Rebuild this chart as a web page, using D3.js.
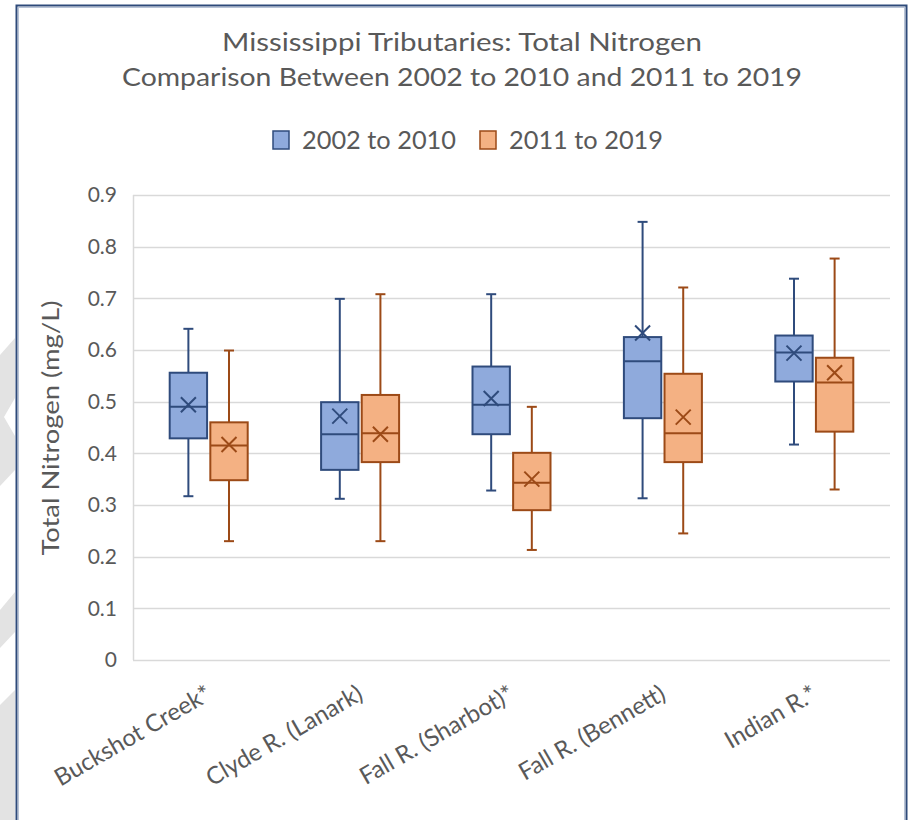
<!DOCTYPE html>
<html>
<head>
  <meta charset="utf-8">
  <title>Mississippi Tributaries: Total Nitrogen</title>
  <script src="https://d3js.org/d3.v7.min.js"></script>
  <style type="text/css">
    body { margin: 0; background: #fff; }
    text { font-family: Lato, "Open Sans", sans-serif; fill: #595959; }
    .grid line { stroke: #d9d9d9; stroke-width: 1.5; }
    .tick-label { font-size: 21px; }
  </style>
</head>
<body>
<script>
var width = 917,
    height = 820;

// ---- data ----
var categories = ["Buckshot Creek*", "Clyde R. (Lanark)", "Fall R. (Sharbot)*", "Fall R. (Bennett)", "Indian R.*"];
var series = ["2002 to 2010", "2011 to 2019"];
var yTicks = [0, 0.1, 0.2, 0.3, 0.4, 0.5, 0.6, 0.7, 0.8, 0.9];

var min1    = [0.317, 0.312, 0.328, 0.313, 0.417];
var q1_1    = [0.429, 0.368, 0.437, 0.468, 0.539];
var median1 = [0.490, 0.437, 0.494, 0.578, 0.595];
var q3_1    = [0.556, 0.499, 0.568, 0.625, 0.628];
var max1    = [0.641, 0.699, 0.708, 0.848, 0.738];
var mean1   = [0.494, 0.472, 0.506, 0.633, 0.594];

var min2    = [0.230, 0.230, 0.213, 0.245, 0.330];
var q1_2    = [0.348, 0.383, 0.290, 0.383, 0.442];
var median2 = [0.415, 0.439, 0.343, 0.439, 0.537];
var q3_2    = [0.460, 0.513, 0.401, 0.554, 0.585];
var max2    = [0.599, 0.708, 0.490, 0.721, 0.777];
var mean2   = [0.417, 0.437, 0.350, 0.470, 0.556];

var fills = ["#8faadc", "#f4b183"];
var strokes = ["#2f4b7c", "#9c4a17"];

// build rows for drawing
var stats = [
  {min: min1, q1: q1_1, med: median1, q3: q3_1, max: max1, mean: mean1},
  {min: min2, q1: q1_2, med: median2, q3: q3_2, max: max2, mean: mean2}
];
var boxes = [];
categories.forEach(function(c, i) {
  series.forEach(function(s, j) {
    var st = stats[j];
    boxes.push({cat: c, s: s, j: j, min: st.min[i], q1: st.q1[i], med: st.med[i],
                q3: st.q3[i], max: st.max[i], mean: st.mean[i]});
  });
});

var svg = d3.select("body").append("svg")
    .attr("width", width)
    .attr("height", height);

// grey watermark shapes on the left edge
var shapes = [
  [[0,355],[15,338],[15,398],[4,417],[15,436],[15,470],[0,486]],
  [[0,610],[15,592],[15,632],[0,648]],
  [[0,705],[15,690],[15,820],[0,820]]
];
svg.selectAll(".wm")
  .data(shapes)
  .enter()
  .append("polygon")
  .attr("points", function(d) { return d.join(" "); })
  .attr("fill", "#e3e3e3");

// chart frame
svg.append("rect")
  .attr("x", 16.5).attr("y", 5.5)
  .attr("width", 890).attr("height", 830)
  .attr("fill", "#fff")
  .attr("stroke", "#2e4a7a")
  .attr("stroke-width", 2);
svg.append("rect")
  .attr("x", 18.5).attr("y", 7.5)
  .attr("width", 886).attr("height", 830)
  .attr("fill", "none")
  .attr("stroke", "#b8c3d6")
  .attr("stroke-width", 1);

// ---- scales ----
var x = d3.scaleBand()
  .domain(categories)
  .range([133, 890]);

var bw = x.bandwidth();
var xs = d3.scaleBand()
  .domain(series)
  .range([bw / 2 - 39, bw / 2 + 39])
  .paddingInner(0.08);

var y = d3.scaleLinear()
  .domain([0, 0.9])
  .range([660, 195]);

// gridlines
var grid = svg.append("g").attr("class", "grid");
grid.selectAll("line")
  .data(yTicks)
  .enter()
  .append("line")
  .attr("x1", 133).attr("x2", 890)
  .attr("y1", function(d) { return Math.round(y(d)) + 0.5; })
  .attr("y2", function(d) { return Math.round(y(d)) + 0.5; });
svg.append("line")
  .attr("x1", 133.5).attr("x2", 133.5)
  .attr("y1", y(0.9)).attr("y2", y(0))
  .attr("stroke", "#d9d9d9")
  .attr("stroke-width", 1.5);

// y axis labels
svg.selectAll(".ylab")
  .data(yTicks)
  .enter()
  .append("text")
  .attr("class", "tick-label")
  .attr("x", 117)
  .attr("y", function(d) { return y(d); })
  .attr("dy", "0.35em")
  .attr("text-anchor", "end")
  .text(function(d) { return d === 0 ? "0" : d3.format(".1f")(d); });

svg.append("text")
  .attr("transform", "translate(59," + 428 + ") rotate(-90)")
  .attr("text-anchor", "middle")
  .attr("textLength", 255)
  .attr("lengthAdjust", "spacingAndGlyphs")
  .style("font-size", "23px")
  .text("Total Nitrogen (mg/L)");

// x axis labels
svg.selectAll(".xlab")
  .data(categories)
  .enter()
  .append("text")
  .attr("transform", function(d) {
    return "translate(" + (x(d) + bw / 2 - 4) + ",684) rotate(-30)";
  })
  .attr("text-anchor", "end")
  .attr("dy", "0.7em")
  .style("font-size", "24px")
  .text(function(d) { return d; });

// ---- boxes ----
var g = svg.append("g");
var box = g.selectAll(".box")
  .data(boxes)
  .enter()
  .append("g")
  .attr("class", "box")
  .attr("transform", function(d) { return "translate(" + (x(d.cat) + xs(d.s)) + ",0)"; });

var w = xs.bandwidth();
var cap = 5;

// whiskers
box.append("line")
  .attr("x1", w / 2).attr("x2", w / 2)
  .attr("y1", function(d) { return y(d.max); })
  .attr("y2", function(d) { return y(d.min); })
  .attr("stroke", function(d) { return strokes[d.j]; })
  .attr("stroke-width", 2);
box.append("line")
  .attr("x1", w / 2 - cap).attr("x2", w / 2 + cap)
  .attr("y1", function(d) { return y(d.max); })
  .attr("y2", function(d) { return y(d.max); })
  .attr("stroke", function(d) { return strokes[d.j]; })
  .attr("stroke-width", 2);
box.append("line")
  .attr("x1", w / 2 - cap).attr("x2", w / 2 + cap)
  .attr("y1", function(d) { return y(d.min); })
  .attr("y2", function(d) { return y(d.min); })
  .attr("stroke", function(d) { return strokes[d.j]; })
  .attr("stroke-width", 2);

// box
box.append("rect")
  .attr("x", 0)
  .attr("width", w)
  .attr("y", function(d) { return y(d.q3); })
  .attr("height", function(d) { return y(d.q1) - y(d.q3); })
  .attr("fill", function(d) { return fills[d.j]; })
  .attr("stroke", function(d) { return strokes[d.j]; })
  .attr("stroke-width", 2);

// median
box.append("line")
  .attr("x1", 0).attr("x2", w)
  .attr("y1", function(d) { return y(d.med); })
  .attr("y2", function(d) { return y(d.med); })
  .attr("stroke", function(d) { return strokes[d.j]; })
  .attr("stroke-width", 2);

// mean marker (x)
var m = 7.5;
box.append("path")
  .attr("d", function(d) {
    var cy = y(d.mean), cx = w / 2;
    return "M" + (cx - m) + "," + (cy - m) + "L" + (cx + m) + "," + (cy + m) +
           "M" + (cx - m) + "," + (cy + m) + "L" + (cx + m) + "," + (cy - m);
  })
  .attr("fill", "none")
  .attr("stroke", function(d) { return strokes[d.j]; })
  .attr("stroke-width", 2);

// ---- title ----
svg.append("text")
  .attr("x", 462).attr("y", 51)
  .attr("text-anchor", "middle")
  .attr("textLength", 480)
  .attr("lengthAdjust", "spacingAndGlyphs")
  .style("font-size", "25px")
  .text("Mississippi Tributaries: Total Nitrogen");
svg.append("text")
  .attr("x", 462).attr("y", 86)
  .attr("text-anchor", "middle")
  .attr("textLength", 680)
  .attr("lengthAdjust", "spacingAndGlyphs")
  .style("font-size", "25px")
  .text("Comparison Between 2002 to 2010 and 2011 to 2019");

// ---- legend ----
var legX = [273, 480];
var leg = svg.selectAll(".leg")
  .data(series)
  .enter()
  .append("g")
  .attr("transform", function(d, i) { return "translate(" + legX[i] + ",131)"; });
leg.append("rect")
  .attr("width", 16).attr("height", 18)
  .attr("fill", function(d, i) { return fills[i]; })
  .attr("stroke", function(d, i) { return strokes[i]; })
  .attr("stroke-width", 1.5);
leg.append("text")
  .attr("x", 29).attr("y", 18)
  .attr("textLength", 154)
  .attr("lengthAdjust", "spacingAndGlyphs")
  .style("font-size", "25px")
  .text(function(d) { return d; });
</script>
</body>
</html>
